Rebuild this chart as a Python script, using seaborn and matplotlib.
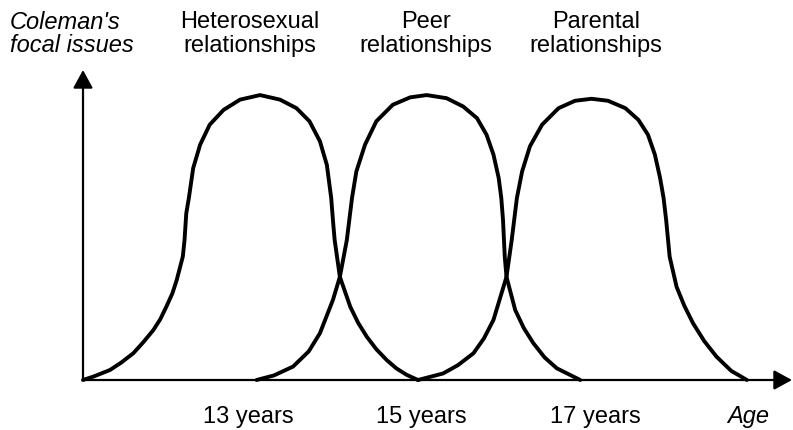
import numpy as np
import pandas as pd
import matplotlib
matplotlib.use("Agg")
import matplotlib.pyplot as plt
import seaborn as sns

# Curve points (x = age in years, y = relative salience)
hetero_age = [11.10, 11.22, 11.41, 11.54, 11.68, 11.79, 11.91, 11.99, 12.06, 12.13,
              12.18, 12.25, 12.27, 12.29, 12.32, 12.37, 12.45, 12.56, 12.72, 12.91,
              13.14, 13.37, 13.56, 13.71, 13.83, 13.91, 13.96, 13.98, 14.00, 14.06,
              14.18, 14.27, 14.37, 14.48, 14.60, 14.71, 14.83, 14.96]
hetero_level = [0.000, 0.012, 0.035, 0.061, 0.094, 0.131, 0.175, 0.213, 0.257, 0.304,
                0.351, 0.433, 0.491, 0.585, 0.639, 0.744, 0.826, 0.896, 0.948, 0.984,
                1.000, 0.984, 0.954, 0.908, 0.838, 0.755, 0.639, 0.561, 0.491, 0.362,
                0.257, 0.201, 0.152, 0.108, 0.070, 0.041, 0.018, 0.000]

peer_age = [13.10, 13.30, 13.52, 13.70, 13.83, 13.98, 14.06, 14.14, 14.20, 14.25,
            14.35, 14.48, 14.67, 14.87, 15.06, 15.29, 15.48, 15.64, 15.75, 15.83,
            15.89, 15.92, 15.94, 15.96, 15.98, 16.08, 16.18, 16.29, 16.42, 16.56,
            16.83]
peer_level = [0.000, 0.016, 0.047, 0.100, 0.164, 0.281, 0.362, 0.491, 0.639, 0.732,
              0.826, 0.908, 0.966, 0.992, 1.000, 0.989, 0.960, 0.919, 0.861, 0.791,
              0.709, 0.639, 0.561, 0.433, 0.362, 0.246, 0.182, 0.129, 0.079, 0.041,
              0.000]

parent_age = [14.96, 15.25, 15.42, 15.60, 15.72, 15.83, 15.98, 16.04, 16.10, 16.16,
              16.25, 16.39, 16.58, 16.77, 16.96, 17.15, 17.35, 17.50, 17.61, 17.69,
              17.75, 17.79, 17.82, 17.86, 17.94, 18.03, 18.13, 18.26, 18.40, 18.57,
              18.75]
parent_level = [0.000, 0.023, 0.052, 0.094, 0.146, 0.211, 0.362, 0.491, 0.639, 0.732,
                0.820, 0.896, 0.954, 0.980, 0.987, 0.980, 0.954, 0.913, 0.861, 0.791,
                0.709, 0.639, 0.561, 0.433, 0.327, 0.260, 0.199, 0.136, 0.082, 0.032,
                0.000]

issue_labels = ["Heterosexual\nrelationships", "Peer\nrelationships", "Parental\nrelationships"]
age_ticks = [13, 15, 17]
age_tick_labels = ["13 years", "15 years", "17 years"]

W, H = 793, 430


def px(x, y):
    """pixel position (from top-left) -> figure fraction"""
    return x / W, 1 - y / H


def build_frame():
    parts = []
    for name, xs, ys in zip(issue_labels,
                            [hetero_age, peer_age, parent_age],
                            [hetero_level, peer_level, parent_level]):
        parts.append(pd.DataFrame({"age": xs, "level": ys, "issue": name}))
    return pd.concat(parts, ignore_index=True)


sns.set_theme(style="white")
plt.rcParams["font.family"] = ["Liberation Sans", "DejaVu Sans"]
plt.rcParams["text.color"] = "black"

fig = plt.figure(figsize=(W / 100, H / 100), dpi=100)
# axes box: origin at (83, 380) px, x arrow tip at 792 px, y arrow tip at 70 px
ax = fig.add_axes([83 / W, 50 / H, (792 - 83) / W, (380 - 70) / H])

df = build_frame()
sns.lineplot(data=df, x="age", y="level", hue="issue", units="issue",
             estimator=None, sort=False, palette=["black"] * 3,
             linewidth=2.8, legend=False, ax=ax)
for line in ax.lines:
    line.set_solid_joinstyle("round")
    line.set_solid_capstyle("round")
    line.set_clip_on(False)

ax.set_xlim(11.10, 19.27)
ax.set_ylim(0, 1.088)
ax.set_xticks([])
ax.set_yticks([])
ax.set_xlabel("")
ax.set_ylabel("")
for s in ax.spines.values():
    s.set_visible(False)
ax.patch.set_alpha(0)

arrow = dict(arrowstyle="-|>,head_length=0.55,head_width=0.3", color="black",
             lw=1.6, shrinkA=0, shrinkB=0, mutation_scale=20)
ax.annotate("", xy=(1, 0), xytext=(0, 0), xycoords="axes fraction",
            textcoords="axes fraction", arrowprops=arrow, annotation_clip=False)
ax.annotate("", xy=(0, 1), xytext=(0, 0), xycoords="axes fraction",
            textcoords="axes fraction", arrowprops=arrow, annotation_clip=False)

fs = 17
# y-axis title, two italic lines
fig.text(*px(10, 29), "Coleman's", fontsize=fs, style="italic", ha="left", va="baseline")
fig.text(*px(10, 52), "focal issues", fontsize=fs, style="italic", ha="left", va="baseline")

# curve labels along the top
for label, xc in zip(issue_labels, [250, 426, 596]):
    first, second = label.split("\n")
    fig.text(*px(xc, 28), first, fontsize=fs, ha="center", va="baseline")
    fig.text(*px(xc, 52), second, fontsize=fs, ha="center", va="baseline")

# age labels under the axis
for t, lab in zip(age_ticks, age_tick_labels):
    xf = ax.transData.transform((t, 0))[0] / W
    fig.text(xf, 1 - 423 / H, lab, fontsize=fs, ha="center", va="baseline")
fig.text(*px(748, 423), "Age", fontsize=fs, style="italic", ha="center", va="baseline")

fig.savefig("out.png", dpi=100)
